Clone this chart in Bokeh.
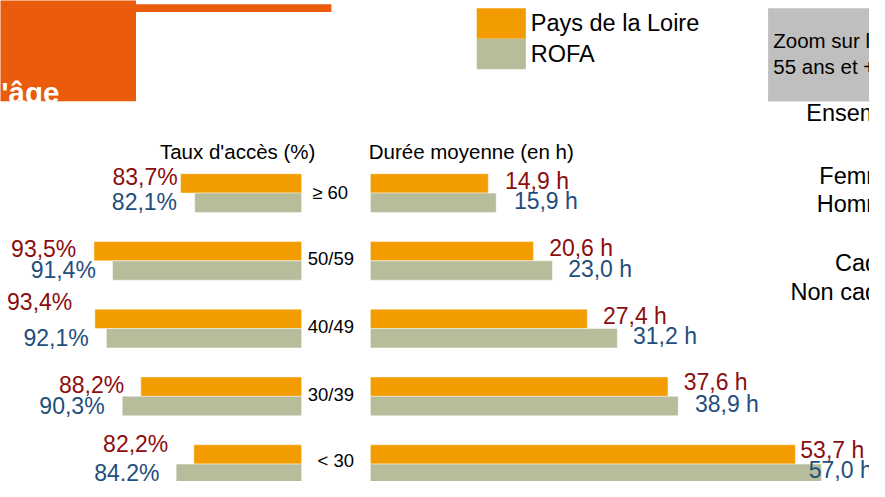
from bokeh.plotting import figure
from bokeh.models import Range1d, Label, ColumnDataSource
from bokeh.core.properties import value
from bokeh.embed import file_html
from bokeh.resources import INLINE

# ---------------- data ----------------
categories = ["≥ 60", "50/59", "40/49", "30/39", "< 30"]
taux_pdl = [83.7, 93.5, 93.4, 88.2, 82.2]      # Pays de la Loire, taux d'accès (%)
taux_rofa = [82.1, 91.4, 92.1, 90.3, 84.2]     # ROFA, taux d'accès (%)
duree_pdl = [14.9, 20.6, 27.4, 37.6, 53.7]     # Pays de la Loire, durée moyenne (h)
duree_rofa = [15.9, 23.0, 31.2, 38.9, 57.0]    # ROFA, durée moyenne (h)
series = ["Pays de la Loire", "ROFA"]
side_labels = ["Ensemble", "Femmes", "Hommes", "Cadres", "Non cadres"]

# ---------------- layout / style ----------------
FONT = "Liberation Sans"
ORANGE = "#F39C00"
GRAY = "#B7BD9B"
RED = "#8B0D0D"
BLUE = "#1F4E7C"
BLOCK = "#EA5B0C"

W, H = 869, 481            # figure size (fits the window with the page margin)
RW, RH = 885, 497          # slide coordinate space mapped onto the figure
SX, SY = W / RW, H / RH

TAUX_BASE, TAUX_X, TAUX_PX = 70.0, 306.7, 9.0     # axis starts at 70 %
DUREE_X, DUREE_PX = 376.7, 8.06
GRP_Y, GRP_STEP = 199.0, 70.0
BAR_H = 20.0 / GRP_STEP

# label nudges (slide pixels)
taux_gap_pdl = [3, 18, 23, 17, 26]
taux_gap_rofa = [18, 17, 18, 18, 17]
taux_dy_pdl = [-5, 0, -15, 0, -9]
taux_dy_rofa = [1, 1, 2, 2, 1]
duree_gap_pdl = [17, 16, 16, 16, 5]
duree_gap_rofa = [18, 16, 16, 17, -13]
duree_dy_pdl = [-1, -1, -1, -3, -3]
duree_dy_rofa = [0, 0, 0, 0, -2]
TXT_DY = -2

p = figure(width=W, height=H, output_backend="svg", toolbar_location=None,
           x_range=Range1d(0, RW), y_range=Range1d(RH, 0),
           x_axis_location=None, y_axis_location=None, min_border=0)
p.outline_line_color = None
p.grid.visible = False
p.background_fill_color = "white"

def taux_at(x):
    return TAUX_BASE + (TAUX_X - x) / TAUX_PX

def duree_at(x):
    return (x - DUREE_X) / DUREE_PX

def grp_at(y):
    return (y - GRP_Y) / GRP_STEP

p.extra_x_ranges = {
    "taux": Range1d(taux_at(0), taux_at(RW)),
    "duree": Range1d(duree_at(0), duree_at(RW)),
}
p.extra_y_ranges = {"grp": Range1d(grp_at(RH), grp_at(0))}

idx = list(range(len(categories)))
y_top = [i - BAR_H / 2 for i in idx]
y_bot = [i + BAR_H / 2 for i in idx]

# ---------------- decoration ----------------
p.quad(left=-5, right=138, top=-5, bottom=104, fill_color=BLOCK, line_color=None)
p.quad(left=138, right=337, top=4, bottom=12, fill_color=BLOCK, line_color=None)
p.quad(left=781.7, right=960, top=8, bottom=104.3, fill_color="#BFBFBF", line_color=None)
p.quad(left=485, right=535, top=8, bottom=39.5, fill_color=ORANGE, line_color=None)
p.quad(left=485, right=535, top=39.5, bottom=71, fill_color=GRAY, line_color=None)

# ---------------- bars ----------------
common = dict(height=BAR_H, y_range_name="grp", line_color="white", line_alpha=0.45, line_width=1)
p.hbar(y=y_top, left=TAUX_BASE, right=taux_pdl, fill_color=ORANGE, x_range_name="taux", **common)
p.hbar(y=y_bot, left=TAUX_BASE, right=taux_rofa, fill_color=GRAY, x_range_name="taux", **common)
p.hbar(y=y_top, left=0, right=duree_pdl, fill_color=ORANGE, x_range_name="duree", **common)
p.hbar(y=y_bot, left=0, right=duree_rofa, fill_color=GRAY, x_range_name="duree", **common)

def fr(v, unit):
    return f"{v:.1f}".replace(".", ",") + unit

# value labels
def add_labels(vals, ys, gaps, dys, unit, color, rng, align):
    sign = -1 if align == "right" else 1
    src = ColumnDataSource(dict(
        x=vals, y=ys, t=[fr(v, unit) for v in vals],
        xo=[sign * g * SX for g in gaps], yo=[(d + TXT_DY) * SY for d in dys]))
    p.text(x="x", y="y", text="t", source=src, x_offset="xo", y_offset="yo",
           x_range_name=rng, y_range_name="grp", text_align=align,
           text_baseline="middle", text_font=value(FONT), text_font_size="23px",
           text_color=color)

add_labels(taux_pdl, y_top, taux_gap_pdl, taux_dy_pdl, "%", RED, "taux", "right")
add_labels(taux_rofa, y_bot, taux_gap_rofa, taux_dy_rofa, "%", BLUE, "taux", "right")
add_labels(duree_pdl, y_top, duree_gap_pdl, duree_dy_pdl, " h", RED, "duree", "left")
add_labels(duree_rofa, y_bot, duree_gap_rofa, duree_dy_rofa, " h", BLUE, "duree", "left")

# category labels
cat_src = ColumnDataSource(dict(x=[360] * len(categories), y=idx, t=categories,
                                xo=[-6 * SX, 0, 0, 0, 0],
                                yo=[d * SY for d in [-1, -2, -2, -2, -4]]))
p.text(x="x", y="y", text="t", source=cat_src, x_offset="xo", y_offset="yo",
       y_range_name="grp", text_align="right", text_baseline="middle",
       text_font=value(FONT), text_font_size="18.5px", text_color="black")

# ---------------- texts ----------------
def lab(x, y, text, size, align="left", color="black", bold=False, baseline="middle"):
    p.add_layout(Label(x=x, y=y, text=text, text_font=FONT, text_font_size=size,
                       text_align=align, text_baseline=baseline, text_color=color,
                       text_font_style="bold" if bold else "normal"))

lab(60, 95, "selon l'âge", "29.5px", align="right", color="white", bold=True,
    baseline="alphabetic")
lab(241.5, 156, "Taux d'accès (%)", "20.5px", align="center")
lab(375, 156, "Durée moyenne (en h)", "20.5px")
lab(540, 23, series[0], "23.5px")
lab(540, 55, series[1], "23.5px")
lab(787, 41.5, "Zoom sur les", "20.5px")
lab(787, 68, "55 ans et +", "20.5px")
for t, yy in zip(side_labels, [118, 183, 212, 273, 303]):
    lab(927, yy - 2, t, "23.5px", align="right")

open("out.html", "w").write(file_html(p, INLINE))
